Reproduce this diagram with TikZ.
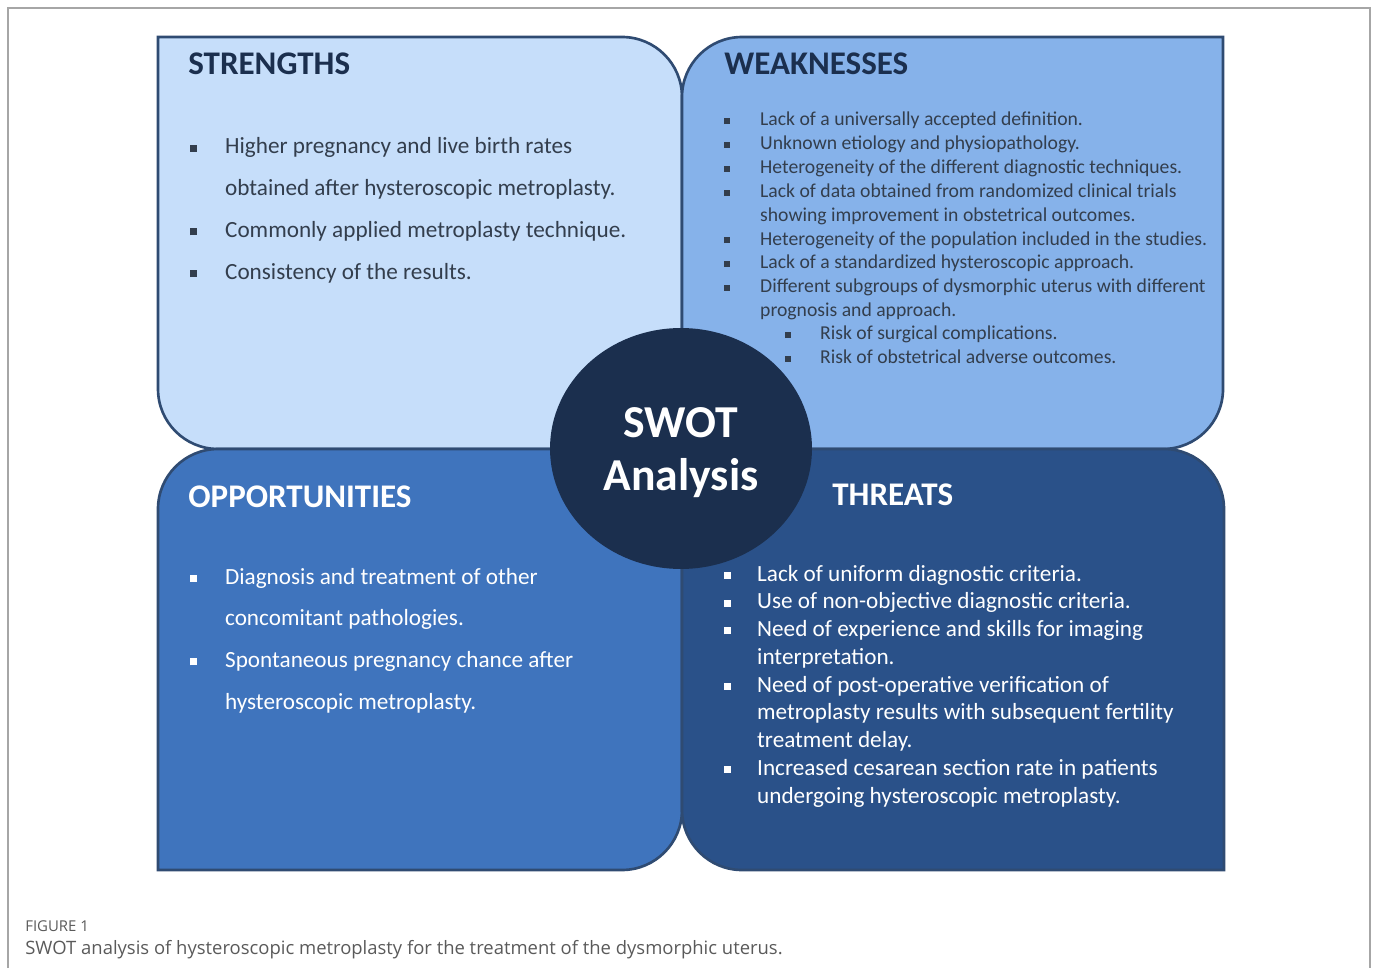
\documentclass[tikz,border=0pt]{standalone}
\usepackage{fontspec}
\setmainfont{Carlito}
\newfontfamily\capfont{Open Sans}
\usetikzlibrary{positioning, shapes.geometric}

\definecolor{strengthfill}{HTML}{C6DEFA}
\definecolor{weakfill}{HTML}{86B2EA}
\definecolor{oppfill}{HTML}{3F74BD}
\definecolor{threatfill}{HTML}{2A5189}
\definecolor{swotnavy}{HTML}{1B2F4E}
\definecolor{edgeblue}{HTML}{2F4B72}
\definecolor{bodytext}{HTML}{333E4D}
\definecolor{framegray}{HTML}{A6A6A6}
\definecolor{capgray}{HTML}{5A5A5A}

% small square bullet and a two column list
\newcommand{\sq}{\rule[0.2ex]{0.3em}{0.3em}}
\newcommand{\swotlist}[2]{\begin{tabular}[t]{@{}p{#1}@{}l@{}}#2\end{tabular}}

\begin{document}
\begin{tikzpicture}[x=0.02cm, y=0.02cm,
   quad/.style = {draw=edgeblue, line width=1.5pt},
   title/.style = {anchor=base west, inner sep=0pt,
      font=\fontsize{18.8}{22}\selectfont\bfseries},
   items/.style = {anchor=base west, inner sep=0pt}]
   \useasboundingbox (0,0) rectangle (1375,968);
   \draw[framegray, line width=0.6pt] (8,0) -- (8,960) -- (1370,960) -- (1370,0);

   % the four quadrants
   \draw[quad, fill=strengthfill] (158,931) -- (622,931)
      arc[start angle=90, end angle=0, radius=1.2cm] -- (682,519) -- (218,519)
      arc[start angle=270, end angle=180, radius=1.2cm] -- cycle;
   \draw[quad, fill=weakfill] (682,519) -- (682,871)
      arc[start angle=180, end angle=90, radius=1.2cm] -- (1223,931) -- (1223,579)
      arc[start angle=0, end angle=-90, radius=1.2cm] -- cycle;
   \draw[quad, fill=oppfill] (158,98) -- (158,459)
      arc[start angle=180, end angle=90, radius=1.2cm] -- (682,519) -- (682,158)
      arc[start angle=0, end angle=-90, radius=1.2cm] -- cycle;
   \draw[quad, fill=threatfill] (682,519) -- (1164,519)
      arc[start angle=90, end angle=0, radius=1.2cm] -- (1224,98) -- (742,98)
      arc[start angle=270, end angle=180, radius=1.2cm] -- cycle;

   \node[ellipse, fill=swotnavy, minimum width=5.24cm, minimum height=4.82cm,
      inner sep=0pt] (swot) at (681,519.5) {};
   \node[text=white, align=center, font=\fontsize{26}{30}\selectfont\bfseries,
      yshift=-0.08cm] (swot-text) at (swot) {SWOT\\Analysis};

   % headings
   \node[title, text=swotnavy] (s-title) at (188,893) {STRENGTHS};
   \node[title, text=swotnavy] (w-title) at (724,893) {WEAKNESSES};
   \node[title, text=white]    (o-title) at (188,461) {OPPORTUNITIES};
   \node[title, text=white]    (t-title) at (832,463) {THREATS};

   % lists
   \node[items, text=bodytext, font=\fontsize{13.2}{23.8}\selectfont] (s-list) at (190,814)
      {\swotlist{19.8pt}{
         \sq & Higher pregnancy and live birth rates\\
             & obtained after hysteroscopic metroplasty.\\
         \sq & Commonly applied metroplasty technique.\\
         \sq & Consistency of the results.}};
   \node[items, text=bodytext, font=\fontsize{11.2}{13.55}\selectfont] (w-list) at (724,842)
      {\swotlist{20.4pt}{
         \sq & Lack of a universally accepted definition.\\
         \sq & Unknown etiology and physiopathology.\\
         \sq & Heterogeneity of the different diagnostic techniques.\\
         \sq & Lack of data obtained from randomized clinical trials\\
             & showing improvement in obstetrical outcomes.\\
         \sq & Heterogeneity of the population included in the studies.\\
         \sq & Lack of a standardized hysteroscopic approach.\\
         \sq & Different subgroups of dysmorphic uterus with different\\
             & prognosis and approach.}};
   \node[items, text=bodytext, font=\fontsize{11.2}{13.55}\selectfont] (w-sub) at (785,628)
      {\swotlist{19.8pt}{
         \sq & Risk of surgical complications.\\
         \sq & Risk of obstetrical adverse outcomes.}};
   \node[items, text=white, font=\fontsize{13.2}{23.8}\selectfont] (o-list) at (190,384)
      {\swotlist{19.8pt}{
         \sq & Diagnosis and treatment of other\\
             & concomitant pathologies.\\
         \sq & Spontaneous pregnancy chance after\\
             & hysteroscopic metroplasty.}};
   \node[items, text=white, font=\fontsize{13.2}{15.8}\selectfont] (t-list) at (724,387)
      {\swotlist{18.7pt}{
         \sq & Lack of uniform diagnostic criteria.\\
         \sq & Use of non-objective diagnostic criteria.\\
         \sq & Need of experience and skills for imaging\\
             & interpretation.\\
         \sq & Need of post-operative verification of\\
             & metroplasty results with subsequent fertility\\
             & treatment delay.\\
         \sq & Increased cesarean section rate in patients\\
             & undergoing hysteroscopic metroplasty.}};

   % caption
   \node[items, text=capgray, font=\capfont\fontsize{8.5}{10}\selectfont] (fig) at (25,37) {FIGURE 1};
   \node[items, text=capgray, font=\capfont\fontsize{10.5}{12}\selectfont] (caption) at (25,14)
      {SWOT analysis of hysteroscopic metroplasty for the treatment of the dysmorphic uterus.};
\end{tikzpicture}
\end{document}
